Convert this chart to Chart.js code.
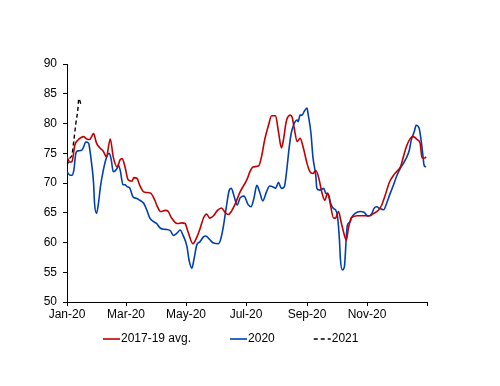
<!DOCTYPE html>
<html>
<head>
<meta charset="utf-8">
<script src="https://cdn.jsdelivr.net/npm/chart.js@4.4.1/dist/chart.umd.min.js"></script>
<style>
  html, body { margin: 0; padding: 0; background: #fff; }
</style>
</head>
<body>
<canvas id="chart" width="500" height="386"></canvas>
<script>
// x values are days since 1 Jan 2020
const tickDays = [0, 60, 121, 182, 244, 305, 366];
const tickLabels = ["Jan-20", "Mar-20", "May-20", "Jul-20", "Sep-20", "Nov-20", ""];

const seriesNames = ["2017-19 avg.", "2020", "2021"];

const avgDays = [
  0, 3, 5, 8, 11, 14, 17, 20, 23, 27,
  30, 34, 37, 40, 44, 47, 51, 54, 56, 59,
  62, 66, 68, 71, 74, 78, 81, 85, 89, 92,
  95, 100, 103, 106, 112, 117, 120, 123, 128, 132,
  135, 139, 142, 145, 149, 153, 157, 161, 164, 167,
  171, 176, 183, 186, 189, 195, 198, 201, 205, 208,
  212, 215, 218, 220, 223, 227, 229, 231, 234, 237,
  240, 244, 247, 250, 253, 256, 259, 262, 265, 267,
  271, 273, 276, 279, 283, 284, 286, 289, 295, 301,
  308, 311, 317, 320, 323, 328, 332, 335, 339, 342,
  345, 349, 352, 356, 359, 361, 364, 365
];
const avgValues = [
  74.4, 73.5, 73.6, 76.4, 77.2, 77.6, 77.8, 77.4, 77.3, 78.3,
  76.7, 75.8, 75.3, 74.4, 77.4, 74.4, 72.7, 73.9, 74.1, 72.7,
  70.6, 70.3, 70.9, 70.8, 69.6, 68.5, 68.4, 68.3, 67.2, 66.0,
  65.2, 65.4, 65.2, 64.2, 63.2, 63.3, 63.2, 61.8, 59.8, 60.9,
  62.2, 64.2, 64.8, 64.1, 64.5, 65.4, 65.8, 65.0, 64.7, 65.2,
  66.5, 68.5, 70.6, 71.9, 72.7, 72.9, 74.6, 77.3, 79.8, 81.3,
  81.3, 78.6, 75.9, 77.2, 80.4, 81.4, 81.0, 79.2, 77.0, 77.5,
  76.1, 73.3, 71.9, 71.6, 72.1, 70.8, 68.5, 67.1, 68.3, 67.1,
  64.1, 64.1, 65.2, 63.2, 60.7, 60.4, 62.3, 64.1, 64.5, 64.5,
  64.5, 64.8, 65.5, 66.3, 67.7, 70.2, 71.3, 71.9, 72.7, 74.4,
  76.1, 77.5, 77.8, 77.3, 76.7, 74.2, 74.2, 74.4
];

const days2020 = [
  0, 3, 5, 7, 9, 11, 15, 17, 19, 22,
  23, 25, 27, 28, 30, 32, 34, 37, 40, 43,
  45, 47, 51, 52, 54, 57, 59, 61, 64, 67,
  71, 74, 78, 81, 84, 88, 91, 95, 100, 105,
  108, 112, 115, 118, 122, 124, 127, 129, 132, 135,
  139, 141, 145, 149, 154, 156, 159, 162, 165, 167,
  170, 173, 176, 180, 184, 187, 190, 193, 196, 199,
  203, 206, 210, 212, 215, 218, 221, 223, 226, 228,
  231, 234, 235, 237, 239, 241, 244, 245, 248, 250,
  253, 254, 257, 261, 263, 266, 268, 271, 273, 275,
  277, 278, 280, 282, 284, 285, 288, 289, 293, 298,
  302, 306, 310, 312, 315, 318, 322, 325, 328, 332,
  335, 339, 342, 345, 348, 350, 353, 355, 358, 360,
  362, 363, 365
];
const values2020 = [
  71.9, 71.3, 71.3, 72.2, 75.0, 75.4, 75.5, 76.1, 76.9, 76.7,
  75.8, 73.3, 70.0, 66.6, 64.9, 66.6, 69.4, 72.2, 74.2, 75.0,
  73.9, 71.9, 72.5, 73.0, 72.2, 69.7, 69.7, 69.4, 69.1, 67.7,
  67.4, 67.1, 66.6, 65.5, 64.2, 63.5, 63.2, 62.4, 62.2, 62.0,
  61.2, 61.6, 62.1, 61.2, 59.3, 57.1, 55.7, 57.1, 59.6, 60.1,
  61.0, 61.1, 60.5, 59.9, 59.8, 60.4, 62.7, 66.0, 68.8, 69.1,
  67.7, 66.3, 67.5, 67.8, 66.4, 66.0, 67.4, 69.6, 68.4, 67.0,
  68.6, 69.5, 69.3, 69.1, 70.1, 69.1, 69.4, 71.6, 76.1, 78.4,
  80.0, 80.6, 80.3, 81.4, 81.4, 82.0, 82.6, 81.7, 78.4, 74.4,
  71.1, 69.1, 68.8, 69.1, 68.3, 68.0, 66.6, 65.7, 65.5, 64.4,
  60.4, 57.1, 55.4, 55.9, 61.0, 62.9, 63.5, 64.1, 64.9, 65.2,
  65.1, 64.4, 64.9, 65.7, 66.0, 65.7, 65.5, 66.6, 68.0, 69.7,
  71.1, 72.5, 73.3, 74.2, 75.5, 77.2, 78.6, 79.7, 79.2, 77.2,
  74.4, 73.0, 72.7
];

const days2021 = [0, 3, 5, 7, 9, 11, 12, 14];
const values2021 = [73.0, 74.2, 74.7, 77.2, 80.0, 82.3, 84.2, 83.3];

const toPoints = (xs, ys) => xs.map((d, i) => ({ x: d, y: ys[i] }));

const FONT = { family: "'Liberation Sans', Arial, sans-serif", size: 12 };

// legend drawn under the axis, short line samples like the original
const bottomLegend = {
  id: "bottomLegend",
  afterDraw(chart) {
    const ctx = chart.ctx;
    const y = chart.chartArea.bottom + 37;
    let x = 103;
    ctx.save();
    ctx.font = FONT.size + "px " + FONT.family;
    ctx.textBaseline = "middle";
    chart.data.datasets.forEach((ds) => {
      ctx.beginPath();
      ctx.strokeStyle = ds.borderColor;
      ctx.lineWidth = ds.borderWidth;
      ctx.setLineDash(ds.borderDash || []);
      ctx.moveTo(x, y);
      ctx.lineTo(x + 17, y);
      ctx.stroke();
      ctx.setLineDash([]);
      ctx.fillStyle = "#000";
      ctx.fillText(ds.label, x + 18, y);
      x += 18 + ctx.measureText(ds.label).width + 39;
    });
    ctx.restore();
  },
};

const ctx = document.getElementById("chart").getContext("2d");
const myChart = new Chart(ctx, {
  type: "line",
  data: {
    datasets: [
      {
        label: seriesNames[0],
        data: toPoints(avgDays, avgValues),
        borderColor: "#C00000",
        borderWidth: 1.6,
      },
      {
        label: seriesNames[1],
        data: toPoints(days2020, values2020),
        borderColor: "#0040B0",
        borderWidth: 1.6,
      },
      {
        label: seriesNames[2],
        data: toPoints(days2021, values2021),
        borderColor: "#000000",
        borderWidth: 1.4,
        borderDash: [4, 3],
      },
    ],
  },
  options: {
    responsive: false,
    animation: false,
    cubicInterpolationMode: "monotone",
    elements: { point: { radius: 0 } },
    layout: { padding: { left: 0, top: 64, right: 73, bottom: 54 } },
    plugins: {
      legend: { display: false },
      tooltip: { enabled: false },
    },
    scales: {
      x: {
        type: "linear",
        min: 0,
        max: 366,
        afterBuildTicks: (axis) => {
          axis.ticks = tickDays.map((d) => ({ value: d }));
        },
        afterFit: (axis) => { axis.height = 30; },
        ticks: {
          autoSkip: false,
          maxRotation: 0,
          padding: 1,
          color: "#000",
          font: FONT,
          callback: (v) => tickLabels[tickDays.indexOf(v)],
        },
        grid: { drawOnChartArea: false, tickLength: 4, color: "#000" },
        border: { color: "#000", width: 1 },
      },
      y: {
        min: 50,
        max: 90,
        afterFit: (axis) => { axis.width = 67; },
        ticks: { stepSize: 5, padding: 6, color: "#000", font: FONT },
        grid: { drawOnChartArea: false, tickLength: 4, color: "#000" },
        border: { color: "#000", width: 1 },
      },
    },
  },
  plugins: [bottomLegend],
});
</script>
</body>
</html>
